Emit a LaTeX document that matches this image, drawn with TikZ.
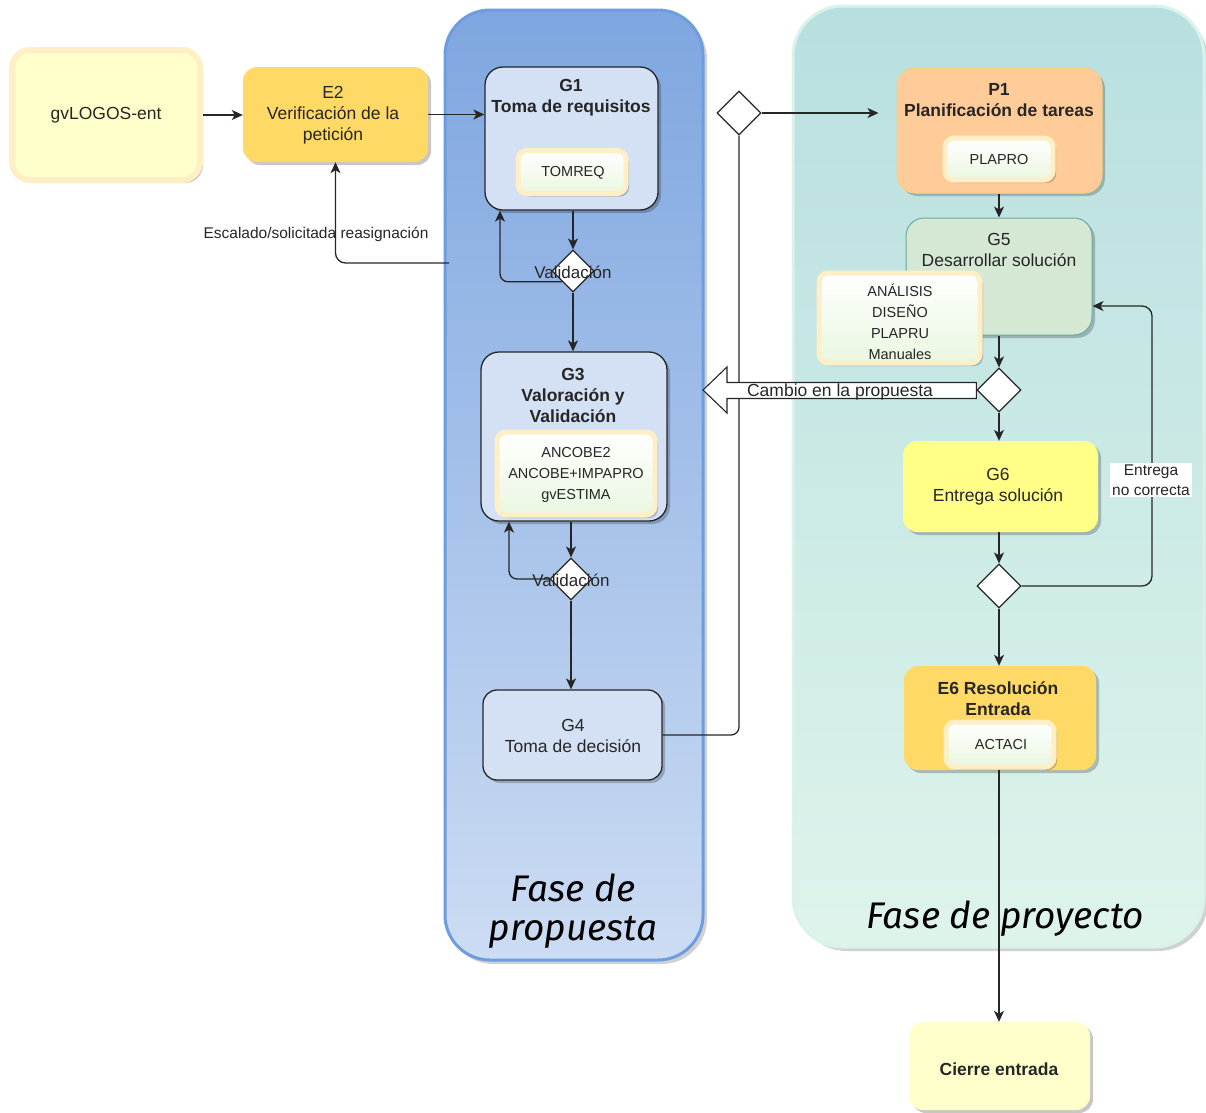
\documentclass[tikz,border=0pt]{standalone}
\usepackage{fontspec}
\setmainfont{Liberation Sans}
\newfontfamily\phasefont{Fira Sans}
\usetikzlibrary{shapes.geometric,arrows.meta,shadows,calc}

\definecolor{poolblueT}{HTML}{7EA6E0}
\definecolor{poolblueB}{HTML}{CCDCF3}
\definecolor{poolblueL}{HTML}{6E9DDF}
\definecolor{poolgreenT}{HTML}{B8DFE0}
\definecolor{poolgreenB}{HTML}{DEF4EB}
\definecolor{poolgreenL}{HTML}{DAF3EA}
\definecolor{taskblue}{HTML}{D4E1F5}
\definecolor{gold}{HTML}{FFD966}
\definecolor{cream}{HTML}{FFFFCC}
\definecolor{creamline}{HTML}{FFEFC6}
\definecolor{peach}{HTML}{FFCC99}
\definecolor{peachline}{HTML}{F6D27C}
\definecolor{mint}{HTML}{D5E8D4}
\definecolor{mintline}{HTML}{67AB9F}
\definecolor{lemon}{HTML}{FFFF88}
\definecolor{docgreen}{HTML}{EAF7E0}
\definecolor{ink}{HTML}{262626}

\tikzset{
  shad/.style={drop shadow={shadow xshift=3pt,shadow yshift=-3pt,fill=black,opacity=0.22}},
  task/.style={rectangle, rounded corners=18, inner sep=0pt, shad},
  bluetask/.style={task, fill=taskblue, draw=ink, line width=1.3pt},
  doc/.style={rectangle, rounded corners=9, inner sep=0pt, top color=white, bottom color=docgreen,
              draw=creamline, line width=5pt, shad},
  gate/.style={diamond, draw=ink, fill=white, line width=1.2pt, minimum width=44pt, minimum height=44pt, inner sep=0pt},
  txt/.style={inner sep=0pt, align=center, text=ink, font=\fontsize{17.5}{21}\selectfont},
  txtb/.style={txt, font=\fontsize{17.5}{21}\selectfont\bfseries},
  small/.style={inner sep=0pt, align=center, text=ink, font=\fontsize{14.5}{21}\selectfont},
  phase/.style={inner sep=0pt, align=center, text=black, font=\fontsize{37}{44}\selectfont\phasefont\itshape},
  wire/.style={draw=ink, line width=1.3pt},
  arr/.style={wire, -{Stealth[length=11pt,width=10pt,inset=3pt]}},
}

\begin{document}
\begin{tikzpicture}[x=1pt,y=-1pt]
\useasboundingbox (0,0) rectangle (1206,1112);

% phase pools
\fill[black, opacity=0.18, rounded corners=45] (448,14) rectangle (707,964);
\shade[top color=poolblueT, bottom color=poolblueB, rounded corners=45] (445,10) rectangle (703,960);
\draw[poolblueL, line width=3pt, rounded corners=45] (445,10) rectangle (703,960);

\fill[black, opacity=0.18, rounded corners=50] (797,10) rectangle (1208,951);
\shade[top color=poolgreenT, bottom color=poolgreenB, rounded corners=50] (793,6) rectangle (1204,947);
\draw[poolgreenL, line width=3pt, rounded corners=50] (793,6) rectangle (1204,947);

\node[phase] (fp1) at (573,888) {Fase de};
\node[phase] (fp2) at (573,932) {propuesta};
\node[phase] (fpr) at (1005,919) {Fase de proyecto};

% entry tasks
\node[task, fill=cream, draw=creamline, line width=6pt, minimum width=188, minimum height=130] (gv) at (106,115) {};
\node[txt] (gvt) at (106,115) {gvLOGOS-ent};
\node[task, rounded corners=14, fill=gold, minimum width=185, minimum height=95] (e2) at (335.5,114.5) {};
\node[txt] (e2t) at (333,115.5) {E2\\Verificación de la\\petición};

% proposal phase
\node[bluetask, minimum width=173, minimum height=143] (g1) at (571.5,138.5) {};
\node[txtb] (g1t) at (571,97.5) {G1\\Toma de requisitos};
\node[doc, minimum width=108, minimum height=43] (tomreq) at (572,172) {};
\node[small] (tomreqt) at (573,173) {TOMREQ};

\node[gate, minimum width=42pt, minimum height=42pt] (d1) at (573,271) {};

\node[bluetask, minimum width=186, minimum height=169] (g3) at (574,436.5) {};
\node[txtb] (g3t) at (573,395) {G3\\Valoración y\\Validación};
\node[doc, minimum width=158, minimum height=83] (g3doc) at (576,473.5) {};
\node[small] (g3doct) at (576,475) {ANCOBE2\\ANCOBE+IMPAPRO\\gvESTIMA};

\node[gate, minimum width=42pt, minimum height=42pt] (d2) at (571,579) {};

\node[bluetask, rounded corners=14, minimum width=179, minimum height=90] (g4) at (572.5,735) {};
\node[txt] (g4t) at (573,735.5) {G4\\Toma de decisión};

\node[gate] (d3) at (739,113) {};

% project phase
\node[task, fill=peach, draw=peachline, line width=1pt, minimum width=205, minimum height=125] (p1) at (999.5,130.5) {};
\node[txtb] (p1t) at (999,100.5) {P1\\Planificación de tareas};
\node[doc, minimum width=108, minimum height=42] (plapro) at (999,159) {};
\node[small] (plaprot) at (999,160) {PLAPRO};

\node[task, fill=mint, draw=mintline, line width=1pt, minimum width=186, minimum height=117] (g5) at (999,276.5) {};
\node[txt] (g5t) at (999,250) {G5\\Desarrollar solución};
\node[doc, minimum width=161, minimum height=90] (g5doc) at (899.5,318) {};
\node[small] (g5doct) at (900,321.5) {ANÁLISIS\\DISEÑO\\PLAPRU\\Manuales};

\node[gate] (d4) at (999,390) {};

\node[task, rounded corners=14, fill=lemon, minimum width=195, minimum height=91] (g6) at (1000.5,486.5) {};
\node[txt] (g6t) at (998,486.5) {G6\\Entrega solución};

\node[gate] (d5) at (999,586) {};

\node[task, rounded corners=14, fill=gold, minimum width=192, minimum height=104] (e6) at (1000,718) {};
\node[txtb] (e6t) at (998,698.5) {E6 Resolución\\Entrada};
\node[doc, minimum width=108, minimum height=45] (actaci) at (1000,744.5) {};
\node[small] (actacit) at (1001,744) {ACTACI};

\node[task, rounded corners=14, fill=cream, minimum width=181, minimum height=88] (cierre) at (999.5,1066) {};
\node[txtb] (cierret) at (999,1069) {Cierre entrada};

% connectors
\draw[arr] (gv.east) -- (e2.west |- gv.east);
\draw[arr] (e2.east) -- (e2.east -| g1.west);

\coordinate (esc) at (449,263);
\draw[arr, rounded corners=10] (esc) -| (e2.south);
\node[txt, font=\fontsize{15.5}{19}\selectfont] (esct) at (316,234) {Escalado/solicitada reasignación};

\draw[arr] (d1 |- g1.south) -- (d1.north);
\draw[arr, rounded corners=8] ($(d1.west)!0.5!(d1.south)$) -| ([xshift=-71.5]g1.south);
\node[txt, font=\fontsize{17}{20}\selectfont] (d1t) at (573,272) {Validación};

\draw[arr] (d1.south) -- (d1.south |- g3.north);
\draw[arr, rounded corners=8] (d2.west) -| ([xshift=-65]g3.south);
\draw[arr] (d2 |- g3.south) -- (d2.north);
\node[txt, font=\fontsize{17}{20}\selectfont] (d2t) at (571,580) {Validación};

\draw[arr] (d2.south) -- (d2.south |- g4.north);
\draw[wire, rounded corners=8] (g4.east) -| (d3.south);
\draw[arr, shorten >=18pt] (d3.east) -- (d3.east -| p1.west);

% hollow arrow back to the proposal phase
\draw[draw=ink, fill=white, line width=1.1pt]
  ($(d4.west)+(0,-7.5)$) -- (727,382.5) -- (727,367) -- (703,390) -- (727,413) -- (727,398.5) -- ($(d4.west)+(0,8.5)$) -- cycle;
\node[txt] (cambio) at (840,392) {Cambio en la propuesta};

\draw[arr] (p1.south -| g5) -- (g5.north);
\draw[arr] (g5.south) -- (d4.north);
\draw[arr] (d4.south) -- (d4.south |- g6.north);
\draw[arr] (d4 |- g6.south) -- (d5.north);

\coordinate (retc) at (1152,306);
\draw[arr, rounded corners=10] (d5.east) -| (retc) -- (retc -| g5.east);
\node[txt, fill=white, inner sep=2pt, font=\fontsize{15.5}{20}\selectfont] (retl) at (1151,480) {Entrega\\no correcta};

\draw[arr] (d5.south) -- (d5.south |- e6.north);
\draw[arr] (d5 |- actaci.south) -- (d5 |- cierre.north);

\end{tikzpicture}
\end{document}
